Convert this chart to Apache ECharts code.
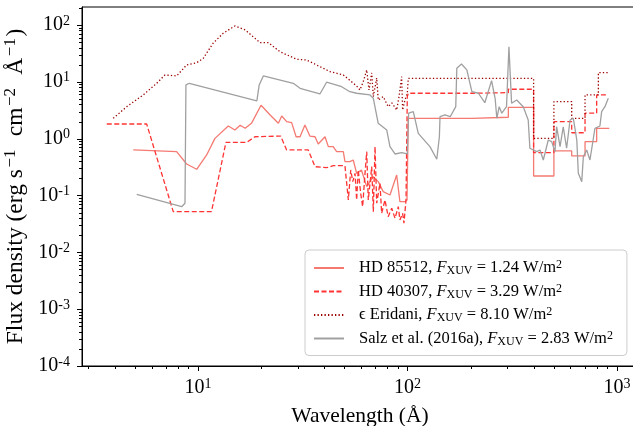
<!DOCTYPE html>
<html>
<head>
<meta charset="utf-8">
<script src="https://cdn.jsdelivr.net/npm/echarts@6.0.0/dist/echarts.min.js"></script>
<style>
html,body{margin:0;padding:0;background:#fff;}
#chart{width:633px;height:426px;}
</style>
</head>
<body>
<div id="chart"></div>
<script>
// ---- Data (wavelength in Å, flux density in erg s^-1 cm^-2 Å^-1) ----
const hd85512_wl = [4.91, 7.91, 8.83, 9.86, 11.0, 12.05, 13.95, 15.0, 15.9, 16.8, 18.0, 20.0, 22.1, 24.2, 25.1, 26.5, 28.0, 29.4, 30.7, 32.4, 34.2, 36.2, 37.5, 40.4, 41.9, 44.2, 45.9, 49.4, 50.3, 53.1, 55.1, 57.2, 60.3, 63.9, 68.7, 72.5, 76.6, 82.5, 88.8, 92.0, 97.3, 99.5, 100.9, 203, 203, 303, 303, 400, 400, 500, 500, 608, 608, 704, 704, 800, 800, 919];
const hd85512_flux = [0.632, 0.590, 0.358, 0.289, 0.516, 1.01, 1.67, 1.42, 1.72, 1.52, 1.86, 3.86, 2.61, 1.86, 2.50, 1.99, 1.91, 1.08, 1.08, 1.74, 1.11, 1.08, 0.805, 1.08, 0.723, 0.723, 0.590, 0.590, 0.394, 0.394, 0.421, 0.245, 0.281, 0.143, 0.214, 0.175, 0.117, 0.102, 0.229, 0.0778, 0.0778, 0.0833, 2.28, 2.28, 2.38, 2.38, 3.56, 3.56, 0.220, 0.220, 0.607, 0.607, 0.496, 0.496, 0.884, 0.884, 1.52, 1.52];

const hd40307_wl = [3.67, 5.69, 7.62, 11.6, 13.6, 17.1, 18.7, 24.8, 26.5, 33.6, 36.2, 41.1, 44.2, 50.3, 52.2, 53.6, 54.8, 56.2, 57.2, 58.2, 59.8, 61.1, 62.7, 63.9, 65.0, 67.5, 68.7, 70.0, 71.3, 73.9, 75.3, 78.1, 80.9, 84.1, 87.2, 90.4, 92.0, 94.8, 96.2, 98.4, 99.8, 100.9, 206, 206, 303, 303, 400, 400, 500, 500, 608, 608, 704, 704, 800, 800, 909];
const hd40307_flux = [1.81, 1.81, 0.0519, 0.0519, 0.863, 0.863, 1.08, 1.11, 0.632, 0.632, 0.321, 0.308, 0.334, 0.334, 0.0833, 0.281, 0.175, 0.245, 0.0833, 0.281, 0.109, 0.0635, 0.245, 0.590, 0.0833, 0.321, 0.0519, 0.723, 0.073, 0.164, 0.0486, 0.0833, 0.0424, 0.0596, 0.0397, 0.0635, 0.0371, 0.0486, 0.0325, 0.0833, 5.48, 6.29, 6.29, 6.44, 6.44, 7.4, 7.4, 0.566, 0.566, 1.99, 1.99, 1.27, 1.27, 2.80, 2.80, 5.87, 5.87];

const epsEri_wl = [3.94, 4.57, 5.48, 6.35, 6.96, 7.91, 8.83, 9.86, 10.6, 11.8, 13.2, 15.0, 16.8, 19.8, 21.7, 24.6, 29.6, 33.0, 38.2, 42.7, 49.4, 57.2, 59.3, 61.5, 63.9, 65.5, 67.5, 68.7, 71.3, 72.5, 76.6, 80.9, 84.3, 88.8, 91.1, 93.8, 94.8, 97.3, 99.8, 100.9, 400, 400, 500, 500, 608, 608, 704, 704, 815, 815, 919];
const epsEri_flux = [2.28, 3.65, 5.87, 9.42, 13.2, 12.7, 19.8, 21.7, 25.9, 47.6, 71.5, 96, 81.7, 48.8, 48.8, 33.9, 24.9, 24.2, 18.5, 15.1, 13.2, 8.45, 7.18, 10.05, 16.2, 7.18, 14.3, 5.48, 11.7, 4.79, 5.48, 3.65, 4.24, 3.19, 5.41, 12.3, 3.19, 4.79, 6.29, 11.5, 11.5, 1.01, 1.01, 4.47, 4.47, 2.28, 2.28, 5.87, 5.87, 14.5, 14.5];

const salz_wl = [5.10, 8.36, 8.67, 8.76, 9.09, 19.1, 19.6, 20.5, 28.5, 30.7, 38.2, 41.1, 48.5, 53.1, 57.2, 66.2, 68.7, 72.5, 79.6, 82.5, 87.2, 93.8, 99.8, 101.3, 106.6, 112.6, 128, 138, 142, 143, 151, 160, 170, 172, 181, 192, 203, 218, 234, 252, 262, 267, 274, 282, 297, 305, 308, 314, 332, 357, 377, 384, 414, 429, 445, 470, 488, 506, 515, 535, 554, 575, 597, 619, 643, 654, 679, 691, 717, 743, 785, 829, 845, 876, 909];
const salz_flux = [0.105, 0.0635, 0.073, 8.80, 9.42, 4.60, 8.80, 12.7, 9.42, 7.69, 6.11, 9.82, 8.20, 6.70, 6.29, 5.87, 5.13, 1.86, 1.42, 0.723, 0.537, 0.566, 0.537, 2.80, 2.98, 1.24, 0.723, 0.434, 1.08, 2.43, 2.61, 2.43, 3.65, 17.3, 20.6, 16.2, 6.70, 6.29, 4.29, 10.5, 5.13, 2.28, 3.65, 2.80, 3.65, 41.5, 41.5, 4.19, 4.79, 3.65, 2.13, 0.677, 0.590, 0.632, 0.421, 0.947, 0.884, 0.590, 1.62, 0.723, 1.62, 0.677, 2.13, 2.28, 0.947, 0.245, 0.175, 0.481, 0.632, 0.421, 1.52, 1.67, 2.98, 3.65, 5.13];

const seriesNames = ['HD 85512', 'HD 40307', '\u03f5 Eridani', 'Salz et al. (2016a)'];
const fxuvValues = ['1.24', '3.29', '8.10', '2.83'];

const xMajorTicks = [10, 100, 1000];
const xMinorTicks = [3, 4, 5, 6, 7, 8, 9, 20, 30, 40, 50, 60, 70, 80, 90, 200, 300, 400, 500, 600, 700, 800, 900];
const yMajorTicks = [1e-4, 1e-3, 1e-2, 1e-1, 1, 10, 100];
const yMinorTicks = [];
[1e-4, 1e-3, 1e-2, 1e-1, 1, 10, 100].forEach(d => { for (let k = 2; k <= 9; k++) yMinorTicks.push(+(k * d).toPrecision(3)); });

const X_MIN = 2.795, X_MAX = 1260, Y_MIN = 1e-4, Y_MAX = 207;

// ---- Chart ----
const FONT = 'Liberation Serif';
const zip = (a, b) => a.map((v, i) => [v, b[i]]);
function isPow10(v) { const l = Math.log10(v); return Math.abs(l - Math.round(l)) < 1e-6; }
function powLabel(v) { return isPow10(v) ? '{b|10}{s|' + Math.round(Math.log10(v)) + '}' : ''; }
const tickRich = {
  b: { fontFamily: FONT, fontSize: 20, color: '#000', lineHeight: 22 },
  s: { fontFamily: FONT, fontSize: 14, color: '#000', verticalAlign: 'top', lineHeight: 14 }
};

function tickSeries(values, axis, len) {
  return {
    type: 'custom', silent: true, clip: false, z: 10,
    data: values.map(v => axis === 'x' ? [v, 1] : [10, v]),
    encode: { x: 0, y: 1 },
    renderItem: function (params, api) {
      const cs = params.coordSys;
      const p = api.coord([api.value(0), api.value(1)]);
      if (axis === 'x') {
        const x = Math.round(p[0]) + 0.5, y0 = cs.y + cs.height;
        return { type: 'line', shape: { x1: x, y1: y0, x2: x, y2: y0 + len }, style: { stroke: '#000', lineWidth: 1 } };
      } else {
        const y = Math.round(p[1]) + 0.5, x0 = cs.x;
        return { type: 'line', shape: { x1: x0, y1: y, x2: x0 - len, y2: y }, style: { stroke: '#000', lineWidth: 1 } };
      }
    }
  };
}

const chart = echarts.init(document.getElementById('chart'), null, { renderer: 'canvas' });
const lineBase = { type: 'line', symbol: 'none', showSymbol: false, smooth: false, z: 3 };
chart.setOption({
  animation: false,
  backgroundColor: '#fff',
  grid: { left: 82, top: 7, width: 556, height: 359, outerBoundsMode: 'none', containLabel: false, show: true, borderColor: '#000', borderWidth: 1, backgroundColor: 'transparent' },
  xAxis: {
    type: 'log', logBase: 10, min: X_MIN, max: X_MAX,
    axisLine: { show: true, lineStyle: { color: '#000', width: 1 } },
    axisTick: { show: false }, splitLine: { show: false },
    axisLabel: { formatter: powLabel, rich: tickRich, margin: 11 },
    name: 'Wavelength (\u00c5)', nameLocation: 'middle', nameGap: 39,
    nameTextStyle: { fontFamily: FONT, fontSize: 21.5, color: '#000' }
  },
  yAxis: {
    type: 'log', logBase: 10, min: Y_MIN, max: Y_MAX,
    axisLine: { show: true, lineStyle: { color: '#000', width: 1 } },
    axisTick: { show: false }, splitLine: { show: false },
    axisLabel: { formatter: powLabel, rich: tickRich, margin: 12 },
    name: '{t|Flux density (erg s}{sup|\u22121}{t|  cm}{sup|\u22122}{t|  \u00c5}{sup|\u22121}{t|)}',
    nameLocation: 'middle', nameGap: 45, nameRotate: 90,
    nameTextStyle: {
      padding: [0, 0, 0, 0],
      rich: {
        t: { fontFamily: FONT, fontSize: 23.5, color: '#000', lineHeight: 27 },
        sup: { fontFamily: FONT, fontSize: 17, color: '#000', verticalAlign: 'top', lineHeight: 17, padding: [0, 1.5, 0, 1.5] }
      }
    }
  },
  legend: {
    orient: 'vertical', left: 305, top: 250,
    data: seriesNames,
    backgroundColor: 'rgba(255,255,255,0.8)', borderColor: '#cccccc', borderWidth: 1, borderRadius: 4,
    padding: [9, 14, 8, 8], itemWidth: 30, itemHeight: 14, itemGap: 5.5,
    itemStyle: { opacity: 0 },
    formatter: function (name) {
      const i = seriesNames.indexOf(name);
      return '{t|' + name + ', }{i|F}{sub|XUV}{t| = ' + fxuvValues[i] + ' W/m}{sup|2}';
    },
    textStyle: {
      padding: [0, 0, 0, 10],
      rich: {
        t: { fontFamily: FONT, fontSize: 16.5, color: '#000', lineHeight: 18 },
        i: { fontFamily: FONT, fontSize: 16.5, fontStyle: 'italic', color: '#000', lineHeight: 18 },
        sub: { fontFamily: FONT, fontSize: 12, color: '#000', verticalAlign: 'bottom', lineHeight: 12 },
        sup: { fontFamily: FONT, fontSize: 12, color: '#000', verticalAlign: 'top', lineHeight: 12 }
      }
    }
  },
  series: [
    Object.assign({}, lineBase, { name: seriesNames[0], data: zip(hd85512_wl, hd85512_flux), lineStyle: { color: '#f47a72', width: 1.3 }, itemStyle: { color: '#f47a72' } }),
    Object.assign({}, lineBase, { name: seriesNames[1], data: zip(hd40307_wl, hd40307_flux), lineStyle: { color: '#ff3333', width: 1.3, type: [5, 2.5] }, itemStyle: { color: '#ff3333' } }),
    Object.assign({}, lineBase, { name: seriesNames[2], data: zip(epsEri_wl, epsEri_flux), lineStyle: { color: '#9b0000', width: 1.3, type: [1.3, 2.2] }, itemStyle: { color: '#9b0000' } }),
    Object.assign({}, lineBase, { name: seriesNames[3], data: zip(salz_wl, salz_flux), lineStyle: { color: '#a0a0a0', width: 1.3 }, itemStyle: { color: '#a0a0a0' } }),
    tickSeries(xMajorTicks, 'x', 5),
    tickSeries(xMinorTicks, 'x', 3),
    tickSeries(yMajorTicks, 'y', 5),
    tickSeries(yMinorTicks, 'y', 3)
  ]
});
</script>
</body>
</html>
